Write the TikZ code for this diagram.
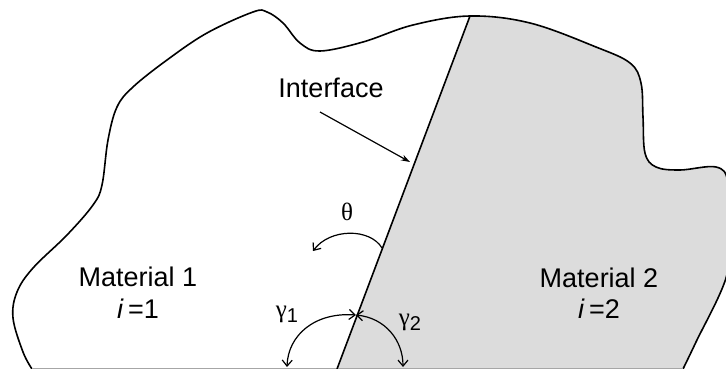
\documentclass[tikz,border=0pt]{standalone}
\usepackage{fontspec}
\setmainfont{Liberation Sans}
\newfontfamily\greekfont{Liberation Serif}
\usetikzlibrary{arrows.meta}
\definecolor{matgray}{HTML}{DCDCDC}
\def\blob{plot[smooth,tension=0.6] coordinates {(32,369) (23,352) (13,318) (17,292) (33,268) (67,235) (93,205) (102,185) (108,140) (117,107) (133,87) (167,60) (207,33) (253,12) (267,12) (283,23) (300,43) (320,51) (363,42) (413,25) (470,16) (530,23) (596,47) (630,63) (641,83) (643,117) (645,153) (656,167) (680,170) (716,167) (728,182) (730,230) (726,278) (696,342) (683,369)}}
\tikzset{
  lbl/.style={font=\fontsize{27}{31}\selectfont,anchor=base},
  ang/.style={line width=1.2pt},
  barb/.tip={Straight Barb[length=6pt,width=10pt,line width=1.2pt]}
}
\begin{document}
\begin{tikzpicture}[x=1pt,y=-1pt]
\useasboundingbox (0,0) rectangle (726,369);
\begin{scope}
\clip (0,0) rectangle (726,369);
\begin{scope}
\clip \blob -- cycle;
\fill[matgray] (476,0)--(337,369)--(760,369)--(760,0)--cycle;
\end{scope}
\draw[line width=1.6pt] \blob;
\end{scope}
\draw[gray!70,line width=0.8pt] (32,368)--(683,368);
% interface
\coordinate (top) at (470,16); \coordinate (foot) at (337,369);
\draw[line width=1.6pt] (top)--(foot);
\node[lbl] (iflbl) at (331,97) {Interface};
\coordinate (ifstart) at (320,112); \coordinate (iftip) at (410,162);
\draw[line width=1.2pt,-{Stealth[length=9pt,width=6pt]}] (ifstart)--(iftip);
% angles
\coordinate (vtx) at (356,315);
\coordinate (g1end) at (287,367); \coordinate (g2end) at (403,367);
\coordinate (thbeg) at (382,248); \coordinate (thend) at (313,251);
\draw[ang,barb-barb] (vtx) .. controls (315,312) and (288,335) .. (g1end);
\draw[ang,barb-barb] (vtx) .. controls (385,318) and (403,340) .. (g2end);
\draw[ang,-barb] (thbeg) .. controls (370,228) and (330,228) .. (thend);
\node[font=\fontsize{25}{28}\selectfont\greekfont] (th) at (347,212) {θ};
\node[font=\fontsize{25}{28}\selectfont] (g1) at (287,314) {{\greekfont γ}\raisebox{-0.2em}{\fontsize{20}{24}\selectfont 1}};
\node[font=\fontsize{25}{28}\selectfont] (g2) at (410,322) {{\greekfont γ}\raisebox{-0.2em}{\fontsize{20}{24}\selectfont 2}};
% materials
\node[lbl] (m1) at (138,286) {Material 1};
\node[lbl] (i1) at (138,318) {\textit{i}\,=1};
\node[lbl] (m2) at (599,287) {Material 2};
\node[lbl] (i2) at (599,318) {\textit{i}\,=2};
\end{tikzpicture}
\end{document}
